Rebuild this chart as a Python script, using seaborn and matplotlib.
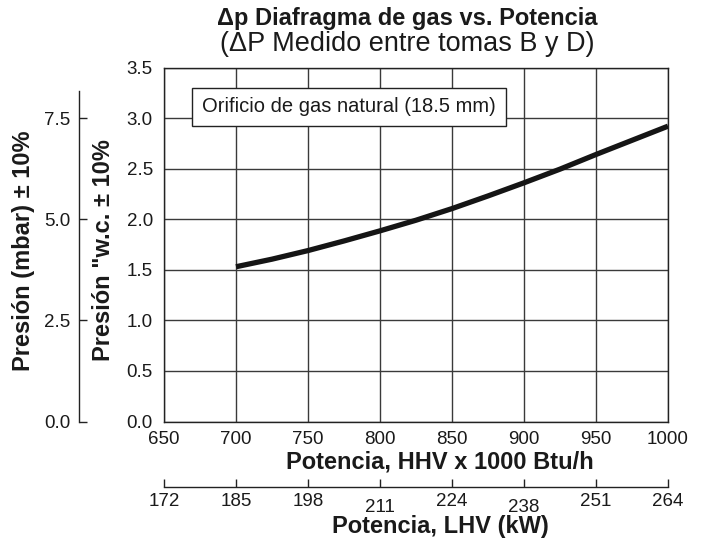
import matplotlib
matplotlib.use("Agg")
import matplotlib.pyplot as plt
import seaborn as sns
import pandas as pd
from matplotlib.transforms import ScaledTranslation

# ---- data ----
hhv = [700, 725, 750, 775, 800, 825, 850, 875, 900, 925, 950, 975, 1000]
pressure_wc = [1.53, 1.605, 1.69, 1.785, 1.885, 1.99, 2.105, 2.23, 2.36, 2.495, 2.64, 2.78, 2.92]
hhv_ticks = [650, 700, 750, 800, 850, 900, 950, 1000]
wc_ticks = [0.0, 0.5, 1.0, 1.5, 2.0, 2.5, 3.0, 3.5]
mbar_ticks = [0.0, 2.5, 5.0, 7.5]
lhv_labels = ["172", "185", "198", "211", "224", "238", "251", "264"]
lhv_low = ["211", "238"]

sns.set_style("white")
plt.rcParams["font.family"] = ["Liberation Sans", "DejaVu Sans"]

TXT = "#1a1a1a"
W, H = 704, 543
fig = plt.figure(figsize=(W / 100, H / 100), dpi=100)

def box(l, t, r, b):
    return [l / W, 1 - b / H, (r - l) / W, (b - t) / H]

def fx(px):
    return px / W

def fy(py):
    return 1 - py / H

ax = fig.add_axes(box(164, 67.5, 668, 421.5))
df = pd.DataFrame({"hhv": hhv, "wc": pressure_wc})
sns.lineplot(data=df, x="hhv", y="wc", ax=ax, color="#151515", linewidth=3.8,
             solid_capstyle="butt", solid_joinstyle="round", zorder=5)
ax.set_xlim(650, 1000)
ax.set_ylim(0, 3.5)
ax.set_xticks(hhv_ticks)
ax.set_xticklabels([str(v) for v in hhv_ticks])
ax.set_yticks(wc_ticks)
ax.set_yticklabels([f"{v:.1f}" for v in wc_ticks])
ax.tick_params(axis="both", length=0, labelsize=13.5, labelcolor=TXT)
ax.tick_params(axis="x", pad=6.5)
ax.tick_params(axis="y", pad=8)
ax.grid(True, color="#3a3a3a", linewidth=1.0)
for s in ax.spines.values():
    s.set_color("#222222")
    s.set_linewidth(1.0)
ax.set_xlabel("")
ax.set_ylabel("")

ax.text(778.5, 3.11, "Orificio de gas natural (18.5 mm)", ha="center", va="center",
        fontsize=14.5, color=TXT, zorder=6,
        bbox=dict(boxstyle="square,pad=0.48", facecolor="white", edgecolor="#222222", linewidth=1.0))

# titles and axis labels
fig.text(fx(407), fy(18), "Δp Diafragma de gas vs. Potencia", ha="center", va="center",
         fontsize=17, fontweight="bold", color=TXT)
fig.text(fx(407), fy(44), "(ΔP Medido entre tomas B y D)", ha="center", va="center",
         fontsize=19.5, color=TXT)
fig.text(fx(440), fy(462), "Potencia, HHV x 1000 Btu/h", ha="center", va="center",
         fontsize=17, fontweight="bold", color=TXT)
fig.text(fx(440), fy(527), "Potencia, LHV (kW)", ha="center", va="center",
         fontsize=17, fontweight="bold", color=TXT)
fig.text(fx(104), fy(250), 'Presión "w.c. ± 10%', ha="center", va="center", rotation=90,
         fontsize=17, fontweight="bold", color=TXT)
fig.text(fx(24), fy(251), "Presión (mbar) ± 10%", ha="center", va="center", rotation=90,
         fontsize=17, fontweight="bold", color=TXT)

# mbar axis
axm = fig.add_axes(box(79, 67.5, 90, 421.5))
axm.set_ylim(0, 3.5 * 2.5)
axm.set_xlim(0, 1)
axm.patch.set_visible(False)
for k in ["top", "right", "bottom"]:
    axm.spines[k].set_visible(False)
axm.spines["left"].set_bounds(0, 8.18)
axm.spines["left"].set_color("#222222")
axm.spines["left"].set_linewidth(1.0)
axm.set_xticks([])
axm.set_yticks(mbar_ticks)
axm.set_yticklabels([f"{v:.1f}" for v in mbar_ticks])
axm.tick_params(axis="y", left=True, direction="in", length=6, width=1, color="#222222",
                labelsize=13.5, labelcolor=TXT, pad=6)

# LHV axis
axl = fig.add_axes(box(164, 460, 668, 487))
axl.set_xlim(650, 1000)
axl.set_ylim(0, 1)
axl.patch.set_visible(False)
for k in ["top", "right", "left"]:
    axl.spines[k].set_visible(False)
axl.spines["bottom"].set_color("#222222")
axl.spines["bottom"].set_linewidth(1.0)
axl.set_yticks([])
axl.set_xticks(hhv_ticks)
axl.set_xticklabels(lhv_labels)
axl.tick_params(axis="x", bottom=True, direction="in", length=6, width=1, color="#222222",
                labelsize=13.5, labelcolor=TXT, pad=4)
for lbl in axl.get_xticklabels():
    if lbl.get_text() in lhv_low:
        lbl.set_transform(lbl.get_transform() + ScaledTranslation(0, -4.5 / 72, fig.dpi_scale_trans))

fig.savefig("out.png", dpi=100)
